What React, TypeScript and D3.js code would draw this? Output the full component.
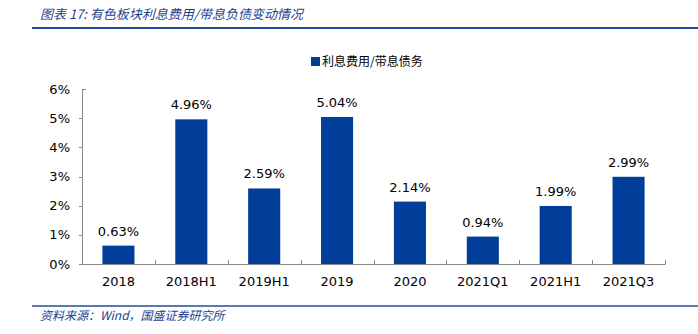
import React from "react";
import * as d3 from "d3";

const categories = ["2018", "2018H1", "2019H1", "2019", "2020", "2021Q1", "2021H1", "2021Q3"];
const values = [0.63, 4.96, 2.59, 5.04, 2.14, 0.94, 1.99, 2.99];
const yTicks = [0, 1, 2, 3, 4, 5, 6];
const seriesName = "利息费用/带息债务";
const title = "图表 17:  有色板块利息费用/带息负债变动情况";
const source = "资料来源：Wind，国盛证券研究所";

const W = 698, H = 334;
const BLUE = "#003e99";
const TITLE_BLUE = "#1b3f8f";
const FONT = "Tahoma, 'DejaVu Sans', Verdana, sans-serif";
const CJK = "'Noto Sans CJK SC', sans-serif";

export default function App() {
  const x = d3.scaleBand<string>().domain(categories).range([82, 665]).paddingInner(0.56).paddingOuter(0.28);
  const y = d3.scaleLinear().domain([0, 6]).range([264, 89]);
  const bounds = d3.range(categories.length + 1).map((i) => 82 + i * (583 / categories.length));
  return (
    <svg width={W} height={H} style={{ position: "absolute", left: 0, top: 0 }}>
      <rect width={W} height={H} fill="#fff" />
      <text x={40} y={19} fontFamily={CJK} fontStyle="italic" fontSize={13} fill={TITLE_BLUE}>{title}</text>
      <line x1={32} x2={698} y1={28} y2={28} stroke="#1f4e9c" strokeWidth={2} />
      <line x1={32} x2={698} y1={306} y2={306} stroke="#1f4e9c" strokeWidth={1.5} />
      <text x={40} y={320} fontFamily={CJK} fontStyle="italic" fontSize={12} fill={TITLE_BLUE}>{source}</text>

      {/* legend */}
      <rect x={311} y={57} width={9} height={9} fill={BLUE} />
      <text x={322} y={66} fontFamily={CJK} fontSize={12} fill="#000">{seriesName}</text>

      {/* y axis */}
      <line x1={82.5} x2={82.5} y1={y(6)} y2={y(0)} stroke="#888" />
      {yTicks.map((t) => (
        <g key={t}>
          <line x1={t === 6 ? 82.5 : 79} x2={t === 6 ? 86 : 82.5} y1={Math.round(y(t)) + 0.5} y2={Math.round(y(t)) + 0.5} stroke="#888" />
          <text x={70} y={y(t)} dy="0.35em" textAnchor="end" fontFamily={FONT} fontSize={13} fill="#000">{t}%</text>
        </g>
      ))}
      {/* x axis */}
      <line x1={82} x2={665} y1={264.5} y2={264.5} stroke="#888" />
      {bounds.map((b, i) => (
        <line key={i} x1={Math.round(b) + 0.5} x2={Math.round(b) + 0.5} y1={260} y2={264.5} stroke="#888" />
      ))}
      {categories.map((c, i) => (
        <g key={c}>
          <rect x={x(c)!} y={y(values[i])} width={x.bandwidth()} height={y(0) - y(values[i])} fill={BLUE} />
          <text x={x(c)! + x.bandwidth() / 2} y={y(values[i]) - 10} textAnchor="middle" fontFamily={FONT} fontSize={13} fill="#000">{values[i].toFixed(2)}%</text>
          <text x={x(c)! + x.bandwidth() / 2} y={286} textAnchor="middle" fontFamily={FONT} fontSize={13} fill="#000">{c}</text>
        </g>
      ))}
    </svg>
  );
}
